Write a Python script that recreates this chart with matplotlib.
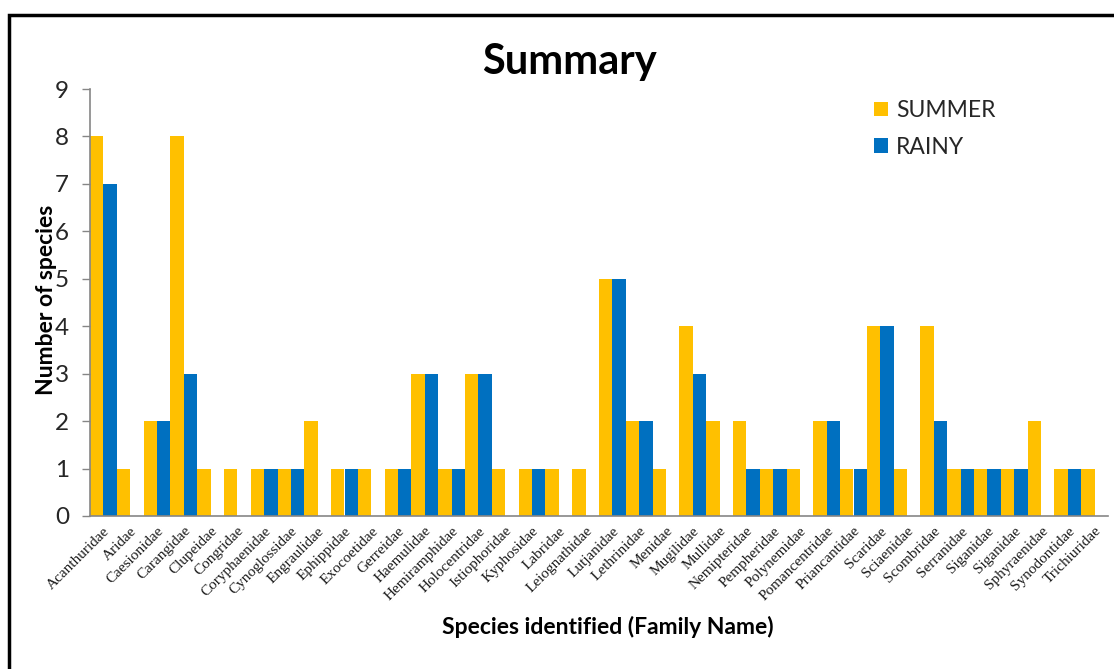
import numpy as np
import matplotlib
matplotlib.use("Agg")
import matplotlib.pyplot as plt
from matplotlib.patches import Rectangle

families = [
    "Acanthuridae", "Aridae", "Caesionidae", "Carangidae", "Clupeidae",
    "Congridae", "Coryphaenidae", "Cynoglossidae", "Engraulidae", "Ephippidae",
    "Exocoetidae", "Gerreidae", "Haemulidae", "Hemiramphidae", "Holocentridae",
    "Istiophoridae", "Kyphosidae", "Labridae", "Leiognathidae", "Lutjanidae",
    "Lethrinidae", "Menidae", "Mugilidae", "Mullidae", "Nemipteridae",
    "Pempheridae", "Polynemidae", "Pomancentridae", "Priancantidae", "Scaridae",
    "Sciaenidae", "Scombridae", "Serranidae", "Siganidae", "Siganidae",
    "Sphyraenidae", "Synodontidae", "Trichiuridae",
]
summer = [8, 1, 2, 8, 1, 1, 1, 1, 2, 1, 1, 1, 3, 1, 3, 1, 1, 1, 1, 5,
          2, 1, 4, 2, 2, 1, 1, 2, 1, 4, 1, 4, 1, 1, 1, 2, 1, 1]
rainy = [7, 0, 2, 3, 0, 0, 1, 1, 0, 1, 0, 1, 3, 1, 3, 0, 1, 0, 0, 5,
         2, 0, 3, 0, 1, 1, 0, 2, 1, 4, 0, 2, 1, 1, 1, 0, 1, 0]
y_ticks = list(range(0, 10))

YELLOW = "#FFC000"
BLUE = "#0070C0"
AXIS_GRAY = "#868686"
SANS = ["Lato", "DejaVu Sans"]

fig = plt.figure(figsize=(11.14, 6.69), dpi=100)
ax = fig.add_axes([90 / 1114, 1 - 516 / 669, 1018 / 1114, 427 / 669])

x = np.arange(len(families))
w = 0.5
ax.bar(x - w / 2, summer, width=w, color=YELLOW, label="SUMMER", linewidth=0)
ax.bar(x + w / 2, rainy, width=w, color=BLUE, label="RAINY", linewidth=0)

ax.set_xlim(-0.5, len(families) - 0.5)
ax.set_ylim(0, 9)
ax.set_yticks(y_ticks)
ax.set_yticklabels([str(v) for v in y_ticks], fontsize=17.5, family=SANS, color="#262626")
ax.tick_params(axis="y", direction="out", length=6, color=AXIS_GRAY, width=1, pad=9)

ax.set_xticks(x)
ax.set_xticklabels(families, rotation=45, ha="right", va="top",
                   rotation_mode="anchor", fontsize=11,
                   family=["Liberation Serif", "DejaVu Serif"], color="#1a1a1a")
ax.tick_params(axis="x", length=0, pad=6)

for side in ("top", "right"):
    ax.spines[side].set_visible(False)
for side in ("left", "bottom"):
    ax.spines[side].set_color(AXIS_GRAY)
    ax.spines[side].set_linewidth(1.2)

fig.text(569 / 1114, 1 - 62 / 669, "Summary", ha="center", va="center",
         fontsize=30, fontweight="bold", family=SANS, color="black")
fig.text(47 / 1114, 1 - 300 / 669, "Number of species", ha="center", va="center",
         rotation=90, fontsize=16.5, fontweight="bold", family=SANS, color="black")
fig.text(608 / 1114, 1 - 627 / 669, "Species identified (Family Name)",
         ha="center", va="center", fontsize=16.5, fontweight="bold",
         family=SANS, color="black")

leg = ax.legend(loc="upper left", bbox_to_anchor=(874 / 1114, 1 - 100 / 669),
                bbox_transform=fig.transFigure, frameon=False,
                prop={"family": SANS, "size": 16.5}, handlelength=0.6,
                handleheight=0.6, handletextpad=0.35, labelspacing=0.68,
                borderaxespad=0, borderpad=0)
for t in leg.get_texts():
    t.set_color("#262626")

# chart-area frame
fig.patches.append(Rectangle((9 / 1114, -0.05), 1.2, (669 - 15) / 669 + 0.05,
                             transform=fig.transFigure, fill=False,
                             edgecolor="black", linewidth=2.5, clip_on=False))

fig.savefig("out.png", dpi=100)
